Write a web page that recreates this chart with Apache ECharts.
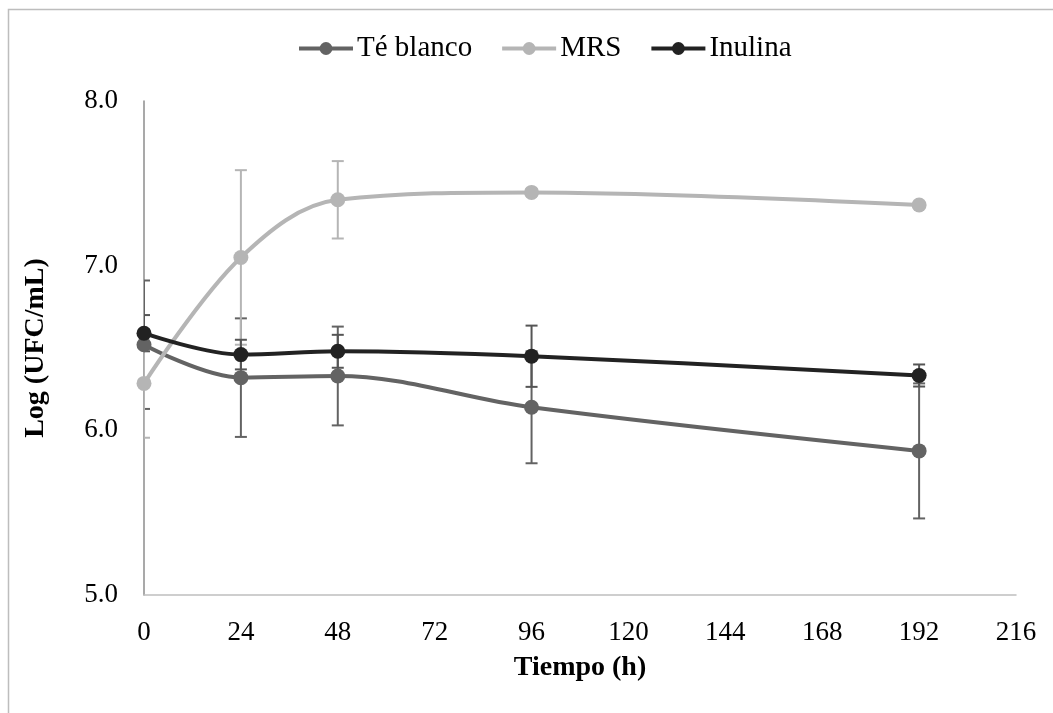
<!DOCTYPE html>
<html>
<head>
<meta charset="utf-8">
<script src="https://cdn.jsdelivr.net/npm/echarts@6/dist/echarts.min.js"></script>
<style>html,body{margin:0;padding:0;background:#fff}#c{width:1053px;height:713px}</style>
</head>
<body>
<div id="c"></div>
<script>
// Data
const hours = [0, 24, 48, 96, 192];
const teBlanco = [6.52, 6.32, 6.33, 6.14, 5.875];
const teBlancoErr = [0.39, 0.36, 0.30, 0.34, 0.41];
const mrs = [6.285, 7.05, 7.40, 7.445, 7.368];
const mrsErr = [0.33, 0.53, 0.235, 0.02, 0.02];
const inulina = [6.59, 6.46, 6.48, 6.45, 6.333];
const inulinaErr = [0.11, 0.09, 0.10, 0.186, 0.067];
const xTicks = [0, 24, 48, 72, 96, 120, 144, 168, 192, 216];
const yTicks = [5.0, 6.0, 7.0, 8.0];

const FONT = '"Liberation Serif", "Times New Roman", serif';
const colors = {te: '#636363', mrs: '#b5b5b5', inu: '#222222'};

function pairs(vals) { return hours.map((h, i) => [h, vals[i]]); }
function errData(vals, errs) { return hours.map((h, i) => [h, vals[i] - errs[i], vals[i] + errs[i]]); }

function errSeries(name, vals, errs, color) {
  return {
    type: 'custom',
    name: name,
    z: 1,
    silent: true,
    clip: true,
    data: errData(vals, errs),
    renderItem: function (params, api) {
      const x = api.value(0);
      const lo = api.coord([x, api.value(1)]);
      const hi = api.coord([x, api.value(2)]);
      const w = 6;
      const style = {stroke: color, lineWidth: 2, fill: null};
      return {
        type: 'group',
        children: [
          {type: 'line', shape: {x1: lo[0], y1: lo[1], x2: hi[0], y2: hi[1]}, style: style},
          {type: 'line', shape: {x1: lo[0] - w, y1: lo[1], x2: lo[0] + w, y2: lo[1]}, style: style},
          {type: 'line', shape: {x1: hi[0] - w, y1: hi[1], x2: hi[0] + w, y2: hi[1]}, style: style}
        ]
      };
    }
  };
}

function lineSeries(name, vals, color) {
  return {
    type: 'line',
    name: name,
    z: 3,
    data: pairs(vals),
    smooth: 0.35,
    symbol: 'circle',
    symbolSize: 15,
    lineStyle: {color: color, width: 4},
    itemStyle: {color: color},
    emphasis: {disabled: true}
  };
}

const chart = echarts.init(document.getElementById('c'), null, {renderer: 'canvas'});
chart.setOption({
  animation: false,
  backgroundColor: '#fff',
  graphic: [{
    type: 'rect', left: 6, top: 7, silent: true,
    shape: {width: 1200, height: 900},
    style: {fill: null, stroke: '#bdbdbd', lineWidth: 1.5}
  }],
  legend: {
    top: 29,
    left: 292,
    itemWidth: 54,
    itemHeight: 16,
    itemGap: 28,
    lineStyle: {width: 4},
    textStyle: {fontFamily: FONT, fontSize: 29, color: '#000', padding: [0, 0, 0, -1]},
    data: ['Té blanco', 'MRS', 'Inulina']
  },
  grid: {left: 144, right: 37, top: 101, bottom: 118, containLabel: false},
  xAxis: {
    type: 'value', min: 0, max: 216, interval: 24,
    name: 'Tiempo (h)', nameLocation: 'middle', nameGap: 59,
    nameTextStyle: {fontFamily: FONT, fontSize: 28, fontWeight: 'bold', color: '#000'},
    axisLine: {show: true, lineStyle: {color: '#bfbfbf', width: 1.5}},
    axisTick: {show: false},
    splitLine: {show: false},
    axisLabel: {fontFamily: FONT, fontSize: 27, color: '#000', margin: 24,
      formatter: v => xTicks.includes(v) ? String(v) : ''}
  },
  yAxis: {
    type: 'value', min: 5, max: 8, interval: 1,
    name: 'Log (UFC/mL)', nameLocation: 'middle', nameGap: 94, nameRotate: 90,
    nameTextStyle: {fontFamily: FONT, fontSize: 28, fontWeight: 'bold', color: '#000'},
    axisLine: {show: true, lineStyle: {color: '#8c8c8c', width: 1.5}},
    axisTick: {show: false},
    splitLine: {show: false},
    axisLabel: {fontFamily: FONT, fontSize: 27, color: '#000', margin: 26,
      formatter: v => yTicks.includes(v) ? v.toFixed(1) : ''}
  },
  series: [
    errSeries('Té blanco err', teBlanco, teBlancoErr, colors.te),
    lineSeries('Té blanco', teBlanco, colors.te),
    errSeries('MRS err', mrs, mrsErr, colors.mrs),
    lineSeries('MRS', mrs, colors.mrs),
    errSeries('Inulina err', inulina, inulinaErr, '#555555'),
    lineSeries('Inulina', inulina, colors.inu)
  ]
});
</script>
</body>
</html>
